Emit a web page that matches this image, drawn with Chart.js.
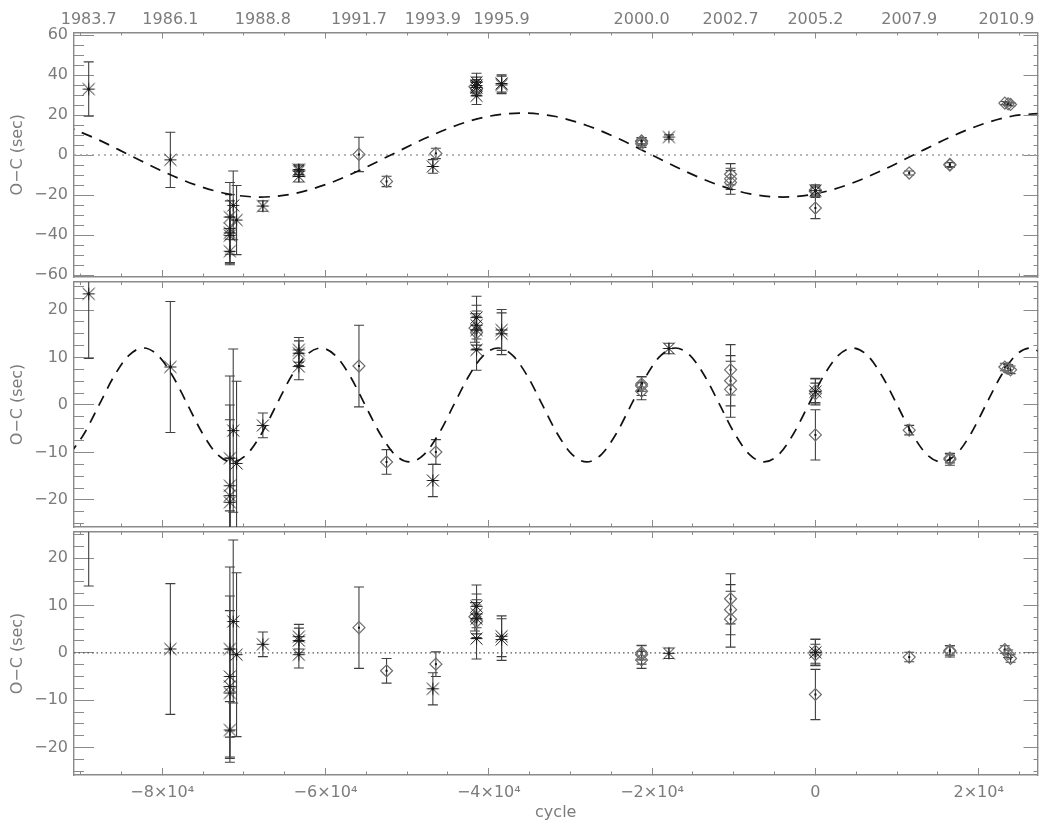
<!DOCTYPE html>
<html><head><meta charset="utf-8">
<script src="https://cdn.jsdelivr.net/npm/chart.js@4.4.1/dist/chart.umd.min.js"></script>
<style>
html,body{margin:0;padding:0;background:#fff;}
#wrap{position:relative;width:1039px;height:825px;overflow:hidden;}
canvas{position:absolute;left:0;}
</style></head><body>
<div id="wrap">
<canvas id="c1" width="1039" height="279" style="top:0px"></canvas>
<canvas id="c2" width="1039" height="250" style="top:279px"></canvas>
<canvas id="c3" width="1039" height="296" style="top:529px"></canvas>
</div>
<script>
// ---------- data ----------
const xTickValues = [-80000, -60000, -40000, -20000, 0, 20000];
const xTickLabels = ['−8×10⁴', '−6×10⁴', '−4×10⁴', '−2×10⁴', '0', '2×10⁴'];
const yearCycles = [-89000, -79000, -67670, -55900, -46850, -38430, -21290, -10390, 0, 11490, 23410];
const yearLabels = ['1983.7', '1986.1', '1988.8', '1991.7', '1993.9', '1995.9', '2000.0', '2002.7', '2005.2', '2007.9', '2010.9'];
const yTicksTop = [-60, -40, -20, 0, 20, 40, 60];
const yTicksLow = [-20, -10, 0, 10, 20];

const cycles = [-89000, -79000, -71300, -71710, -70890, -71710, -71710, -71710, -71710, -67670,
  -63260, -63260, -63260, -55900, -52520, -46850, -46480, -41500, -41500, -41500,
  -41500, -41500, -41700, -38430, -38430, -21290, -21290, -21290, -17940, -10390,
  -10390, -10390, 0, 0, 0, 0, 11490, 16470, 16470, 23200, 23600, 23900];
const markers = ['a','a','a','a','a','a','a','a','a','a',
  'a','a','a','d','d','a','d','a','a','a',
  'a','d','d','a','a','d','d','d','a','d',
  'd','d','a','d','d','d','d','d','d','d','d','d'];
const errors = [13.6, 13.8, 17.2, 17.3, 17.3, 17.0, 16.0, 9.3, 6.0, 2.6,
  2.6, 2.6, 2.8, 8.6, 2.6, 3.4, 2.6, 4.5, 4.2, 4.0,
  4.3, 3.5, 3.0, 4.3, 4.4, 2.0, 1.8, 1.5, 1.1, 5.3,
  5.3, 5.9, 2.8, 2.5, 2.2, 5.3, 1.0, 1.2, 1.0, 0.8, 0.8, 0.8];
const ocTop = [33.0, -2.4, -25.2, -31.0, -32.5, -36.8, -38.9, -40.3, -48.1, -25.5,
  -7.2, -8.0, -10.7, 0.3, -13.2, -5.7, 0.8, 36.4, 34.8, 33.8,
  29.6, 33.2, 34.2, 35.8, 35.1, 6.7, 5.6, 7.1, 9.0, -9.6,
  -11.9, -13.7, -17.8, -17.5, -18.2, -26.5, -9.0, -5.0, -4.7, 26.0, 25.6, 25.3];
const ocMid = [23.4, 8.0, -5.4, -11.2, -12.3, -17.0, -19.1, -20.5, -28.3, -4.3,
  11.6, 10.9, 8.1, 8.2, -12.0, -15.9, -9.9, 18.4, 16.8, 15.8,
  11.6, 15.2, 16.2, 15.8, 15.0, 4.0, 2.9, 4.4, 11.9, 7.4,
  5.1, 3.3, 2.8, 3.0, 2.4, -6.3, -5.3, -11.5, -11.2, 8.0, 7.7, 7.4];
const ocLow = [27.7, 0.8, 6.6, 0.8, -0.4, -5.0, -7.1, -8.5, -16.3, 1.8,
  3.4, 2.6, -0.4, 5.3, -3.8, -7.6, -2.4, 9.8, 8.2, 7.2,
  3.0, 6.6, 7.6, 3.5, 2.8, -0.4, -1.5, 0.0, -0.1, 11.4,
  9.1, 7.1, 0.1, 0.3, -0.4, -8.8, -0.9, 0.3, 0.5, 0.7, -0.2, -1.2];

// dashed model curves
const fit1Cycle = [-92000, -88000, -84000, -80000, -76000, -72000, -68000, -64000, -60000, -56000,
  -52000, -48000, -44000, -40000, -36000, -32000, -28000, -24000, -20000, -16000,
  -12000, -8000, -4000, 0, 4000, 8000, 12000, 16000, 20000, 24000, 28000];
const fit1Value = [14.8, 8.0, 0, -8.0, -14.8, -19.4, -21, -19.4, -14.8, -8.0,
  0, 8.0, 14.8, 19.4, 21, 19.4, 14.8, 8.0, 0, -8.0,
  -14.8, -19.4, -21, -19.4, -14.8, -8.0, 0, 8.0, 14.8, 19.4, 21];
const fit2Cycle = [-91350, -89540, -87730, -85920, -84110, -82300, -80490, -78680, -76870, -75060,
  -73250, -71440, -69630, -67820, -66010, -64200, -62390, -60580, -58770, -56960,
  -55150, -53340, -51530, -49720, -47910, -46100, -44290, -42480, -40670, -38860,
  -37050, -35240, -33430, -31620, -29810, -28000, -26190, -24380, -22570, -20760,
  -18950, -17140, -15330, -13520, -11710, -9900, -8090, -6280, -4470, -2660,
  -850, 960, 2770, 4580, 6390, 8200, 10010, 11820, 13630, 15440,
  17250, 19060, 20870, 22680, 24490, 26300, 28110];
const fit2Value = [-10.4, -6, 0, 6, 10.4, 12, 10.4, 6, 0, -6, -10.4, -12,
  -10.4, -6, 0, 6, 10.4, 12, 10.4, 6, 0, -6, -10.4, -12,
  -10.4, -6, 0, 6, 10.4, 12, 10.4, 6, 0, -6, -10.4, -12,
  -10.4, -6, 0, 6, 10.4, 12, 10.4, 6, 0, -6, -10.4, -12,
  -10.4, -6, 0, 6, 10.4, 12, 10.4, 6, 0, -6, -10.4, -12,
  -10.4, -6, 0, 6, 10.4, 12, 10.4];
const zeroLevel = [0, 0];

// ---------- styling ----------
const X_MIN = -90800, X_MAX = 27200;
const TXT = '#7c7c7c', AX = '#8a8a8a';
const FONT = {family: "'DejaVu Sans', sans-serif", size: 16};
Chart.defaults.font.family = FONT.family;
Chart.defaults.font.size = FONT.size;
Chart.defaults.color = TXT;

function makeAsterisk(r, lw, color) {
  const s = Math.ceil(2 * r + lw + 2);
  const c = document.createElement('canvas');
  c.width = s; c.height = s;
  const g = c.getContext('2d');
  const m = s / 2;
  g.strokeStyle = color; g.lineWidth = lw;
  g.beginPath();
  g.moveTo(m - r, m); g.lineTo(m + r, m);
  g.moveTo(m, m - r); g.lineTo(m, m + r);
  g.moveTo(m - r, m - r); g.lineTo(m + r, m + r);
  g.moveTo(m - r, m + r); g.lineTo(m + r, m - r);
  g.stroke();
  return c;
}
const asterisk = makeAsterisk(6, 1.0, '#1a1a1a');

function stepTicks(from, to, step) {
  const t = [];
  for (let v = from; v <= to + 1e-9; v += step) t.push({value: Math.round(v * 1000) / 1000});
  return t;
}
const fmt = v => (v < 0 ? '−' + Math.abs(v) : String(v));

// force an axis box size and drop the label-overflow padding
function sizeTo(w, h) {
  return s => {
    if (w !== null) s.width = w;
    if (h !== null) s.height = h;
    s.paddingTop = 0; s.paddingBottom = 0; s.paddingLeft = 0; s.paddingRight = 0;
  };
}

const errorBars = {
  id: 'errbars',
  beforeDatasetsDraw(chart, args, opts) {
    const {ctx, chartArea: a} = chart;
    const xs = chart.scales.x, ys = chart.scales.y;
    ctx.save();
    ctx.beginPath();
    ctx.rect(a.left, a.top, a.right - a.left, a.bottom - a.top);
    ctx.clip();
    ctx.strokeStyle = '#404040';
    ctx.fillStyle = '#111';
    ctx.lineWidth = 1.1;
    for (let i = 0; i < opts.xs.length; i++) {
      const px = xs.getPixelForValue(opts.xs[i]);
      const yc = ys.getPixelForValue(opts.ys[i]);
      const y1 = ys.getPixelForValue(opts.ys[i] - opts.es[i]);
      const y2 = ys.getPixelForValue(opts.ys[i] + opts.es[i]);
      ctx.beginPath();
      ctx.moveTo(px, y1); ctx.lineTo(px, y2);
      ctx.moveTo(px - 5, y1); ctx.lineTo(px + 5, y1);
      ctx.moveTo(px - 5, y2); ctx.lineTo(px + 5, y2);
      ctx.stroke();
      ctx.fillRect(px - 1, yc - 1, 2, 2);
    }
    ctx.restore();
  }
};

function panel(id, p) {
  const starPts = [], diaPts = [];
  cycles.forEach((c, i) => {
    const pt = {x: c, y: p.values[i]};
    (markers[i] === 'a' ? starPts : diaPts).push(pt);
  });
  const datasets = [
    {type: 'scatter', data: starPts, pointStyle: asterisk, pointRadius: 6, order: 0},
    {type: 'scatter', data: diaPts, pointStyle: 'rectRot', pointRadius: 6, borderColor: '#6e6e6e',
     backgroundColor: 'rgba(0,0,0,0)', borderWidth: 1.2, order: 0}
  ];
  if (p.fit) {
    datasets.push({type: 'line', data: p.fit[0].map((x, i) => ({x, y: p.fit[1][i]})),
      borderColor: '#111', borderWidth: 1.7, borderDash: [11, 8], pointRadius: 0,
      cubicInterpolationMode: 'monotone', fill: false, order: 1});
  }
  if (p.zero) {
    datasets.push({type: 'line', data: [{x: X_MIN, y: zeroLevel[0]}, {x: X_MAX, y: zeroLevel[1]}],
      borderColor: p.zero.color, borderWidth: p.zero.width, borderDash: p.zero.dash,
      pointRadius: 0, fill: false, order: 2});
  }
  const noGrid = (len) => ({display: true, drawOnChartArea: false, drawTicks: true, tickLength: len, tickColor: AX, tickWidth: 1});
  const scales = {
    x: {type: 'linear', axis: 'x', position: 'bottom', min: X_MIN, max: X_MAX, weight: 0,
        afterBuildTicks: s => { s.ticks = xTickValues.map(v => ({value: v})); },
        afterFit: sizeTo(null, p.bottomH),
        grid: noGrid(-7),
        border: {display: true, color: AX, width: 1.4},
        ticks: {display: p.bottomLabels, padding: 15, color: TXT, maxRotation: 0, minRotation: 0, autoSkip: false,
                callback: (v, i) => xTickLabels[i]},
        title: {display: p.bottomLabels, text: 'cycle', color: TXT, padding: {top: 0, bottom: 2.4}}},
    xm: {type: 'linear', axis: 'x', position: 'bottom', min: X_MIN, max: X_MAX, weight: -1,
         afterBuildTicks: s => { s.ticks = stepTicks(-90000, 25000, 5000); },
         afterFit: sizeTo(null, 0),
         grid: noGrid(-3.5), border: {display: false}, ticks: {display: false}},
    xt: {type: 'linear', axis: 'x', position: 'top', min: X_MIN, max: X_MAX, weight: 0,
         afterBuildTicks: s => { s.ticks = xTickValues.map(v => ({value: v})); },
         afterFit: sizeTo(null, p.years ? 0 : p.topH),
         grid: noGrid(-6), border: {display: true, color: AX, width: 1.4}, ticks: {display: false}},
    xtm: {type: 'linear', axis: 'x', position: 'top', min: X_MIN, max: X_MAX, weight: -1,
          afterBuildTicks: s => { s.ticks = stepTicks(-90000, 25000, 5000); },
          afterFit: sizeTo(null, 0),
          grid: noGrid(-3), border: {display: false}, ticks: {display: false}},
    y: {type: 'linear', axis: 'y', position: 'left', min: p.yMin, max: p.yMax, weight: 0,
        afterBuildTicks: s => { s.ticks = p.yTicks.map(v => ({value: v})); },
        afterFit: sizeTo(74, null),
        grid: noGrid(-20), border: {display: true, color: AX, width: 1.4},
        ticks: {padding: 26, color: TXT, autoSkip: false, callback: v => fmt(v)},
        title: {display: true, text: 'O−C (sec)', color: TXT, padding: {top: 8.4, bottom: 0}}},
    ym: {type: 'linear', axis: 'y', position: 'left', min: p.yMin, max: p.yMax, weight: -1,
         afterBuildTicks: s => { s.ticks = stepTicks(p.minor[0], p.minor[1], p.minor[2]); },
         afterFit: sizeTo(0, null),
         grid: noGrid(-10), border: {display: false}, ticks: {display: false}},
    yr: {type: 'linear', axis: 'y', position: 'right', min: p.yMin, max: p.yMax, weight: 0,
         afterBuildTicks: s => { s.ticks = p.yTicks.map(v => ({value: v})); },
         afterFit: sizeTo(1.5, null),
         grid: noGrid(-14), border: {display: true, color: AX, width: 1.4}, ticks: {display: false}},
    yrm: {type: 'linear', axis: 'y', position: 'right', min: p.yMin, max: p.yMax, weight: -1,
          afterBuildTicks: s => { s.ticks = stepTicks(p.minor[0], p.minor[1], p.minor[2]); },
          afterFit: sizeTo(0, null),
          grid: noGrid(-4), border: {display: false}, ticks: {display: false}}
  };
  if (p.years) {
    scales.xy = {type: 'linear', axis: 'x', position: 'top', min: X_MIN, max: X_MAX, weight: 1,
      afterBuildTicks: s => { s.ticks = yearCycles.map(v => ({value: v})); },
      afterFit: sizeTo(null, p.topH),
      grid: {display: false, drawTicks: false}, border: {display: false},
      ticks: {padding: 2.9, color: TXT, maxRotation: 0, minRotation: 0, autoSkip: false,
              callback: (v, i) => yearLabels[i]}};
  }
  return new Chart(document.getElementById(id), {
    type: 'scatter',
    data: {datasets},
    options: {
      responsive: false, animation: false, events: [],
      layout: {padding: 0, autoPadding: false},
      plugins: {legend: {display: false}, tooltip: {enabled: false},
                errbars: {xs: cycles, ys: p.values, es: errors}},
      elements: {point: {borderColor: '#111', borderWidth: 1.2}},
      scales
    },
    plugins: [errorBars]
  });
}

panel('c1', {values: ocTop, fit: [fit1Cycle, fit1Value], yMin: -61, yMax: 61.3, yTicks: yTicksTop,
  minor: [-60, 60, 5], topH: 32.5, bottomH: 2, years: true, bottomLabels: false,
  zero: {color: '#a0a0a0', width: 1.6, dash: [2, 4]}});
panel('c2', {values: ocMid, fit: [fit2Cycle, fit2Value], yMin: -25.7, yMax: 25.9, yTicks: yTicksLow,
  minor: [-25, 25, 2.5], topH: 3, bottomH: 2, years: false, bottomLabels: false, zero: null});
panel('c3', {values: ocLow, fit: null, yMin: -25.8, yMax: 25.5, yTicks: yTicksLow,
  minor: [-25, 25, 2.5], topH: 3, bottomH: 50, years: false, bottomLabels: true,
  zero: {color: '#555', width: 1.2, dash: [1.5, 3]}});
</script>
</body></html>
